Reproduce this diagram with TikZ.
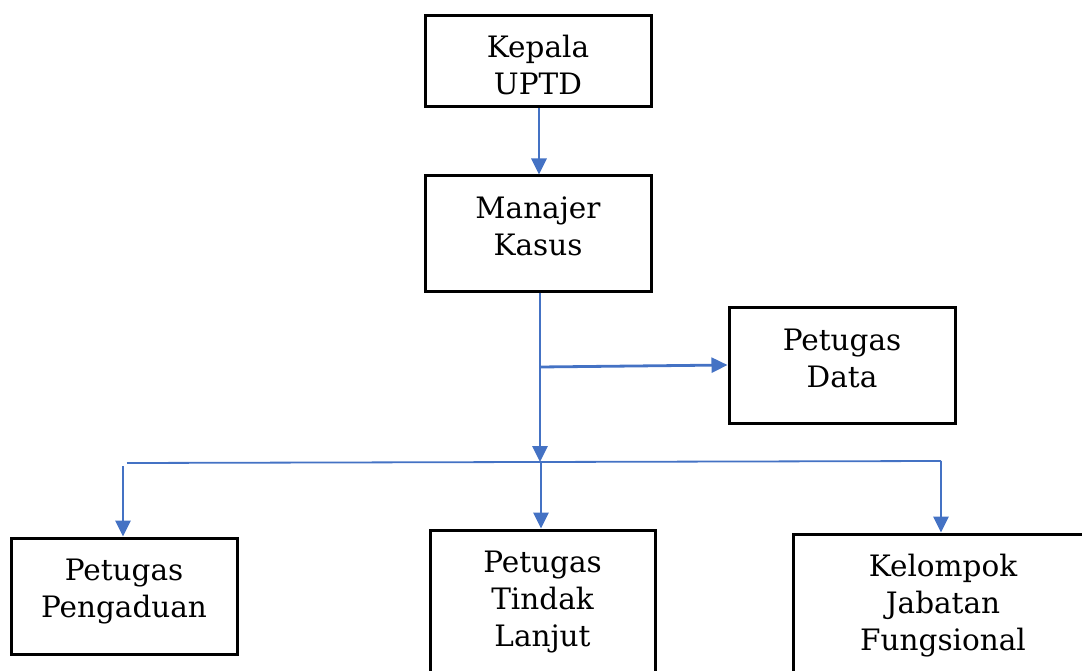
\documentclass[tikz,border=0pt]{standalone}
\usepackage{fontspec}
\setmainfont{DejaVu Serif}
\usetikzlibrary{arrows.meta}
\definecolor{linkblue}{HTML}{4472C4}
\begin{document}
\begin{tikzpicture}[x=1pt,y=-1pt,
  box/.style={draw=black,line width=3pt,inner sep=0pt},
  boxtext/.style={align=center,inner sep=0pt,font=\fontsize{29.5}{37}\selectfont},
  link/.style={draw=linkblue,line width=2.8pt,-{Triangle[width=15pt,length=16pt]}},
  thinlink/.style={draw=linkblue,line width=1.8pt}]
\useasboundingbox (0,0) rectangle (1082,671);
\clip (0,0) rectangle (1082,671);
\node[box,minimum width=226pt,minimum height=91pt] (kepala) at (538,61.5) {};
\node[box,minimum width=226pt,minimum height=115pt] (manajer) at (538,233.5) {};
\node[box,minimum width=226pt,minimum height=116pt] (data) at (842,365) {};
\node[box,minimum width=226pt,minimum height=116pt] (pengaduan) at (124,596) {};
\node[box,minimum width=225pt,minimum height=142pt] (tindak) at (542.5,601) {};
\node[box,minimum width=300pt,minimum height=138pt] (kelompok) at (943,603) {};
\node[boxtext] (kepalaT) at ([yshift=-4pt]kepala.center) {Kepala\\UPTD};
\node[boxtext] (manajerT) at ([yshift=7pt]manajer.center) {Manajer\\Kasus};
\node[boxtext] (dataT) at ([yshift=7pt]data.center) {Petugas\\Data};
\node[boxtext] (pengaduanT) at ([yshift=4pt]pengaduan.center) {Petugas\\Pengaduan};
\node[boxtext] (tindakT) at ([yshift=-1.5pt]tindak.center) {Petugas\\Tindak\\Lanjut};
\node[boxtext] (kelompokT) at ([yshift=-3pt]kelompok.center) {Kelompok\\Jabatan\\Fungsional};
\coordinate (hub) at (540,462);
\coordinate (branch) at (540,367);
\coordinate (hl) at (127,463);
\coordinate (hr) at (941,461);
\coordinate (dl) at (123,466);
\coordinate (dm) at (541,463);
\draw[link] (kepala.south -| 539,0) -- (manajer.north -| 539,0);
\draw[link] (manajer.south -| hub) -- (hub);
\draw[link] (branch) -- (data.west);
\draw[thinlink] (hl) -- (hr);
\draw[link] (dl) -- (pengaduan.north -| dl);
\draw[link] (dm) -- (tindak.north -| dm);
\draw[link] (hr) -- (kelompok.north -| hr);
\end{tikzpicture}
\end{document}
